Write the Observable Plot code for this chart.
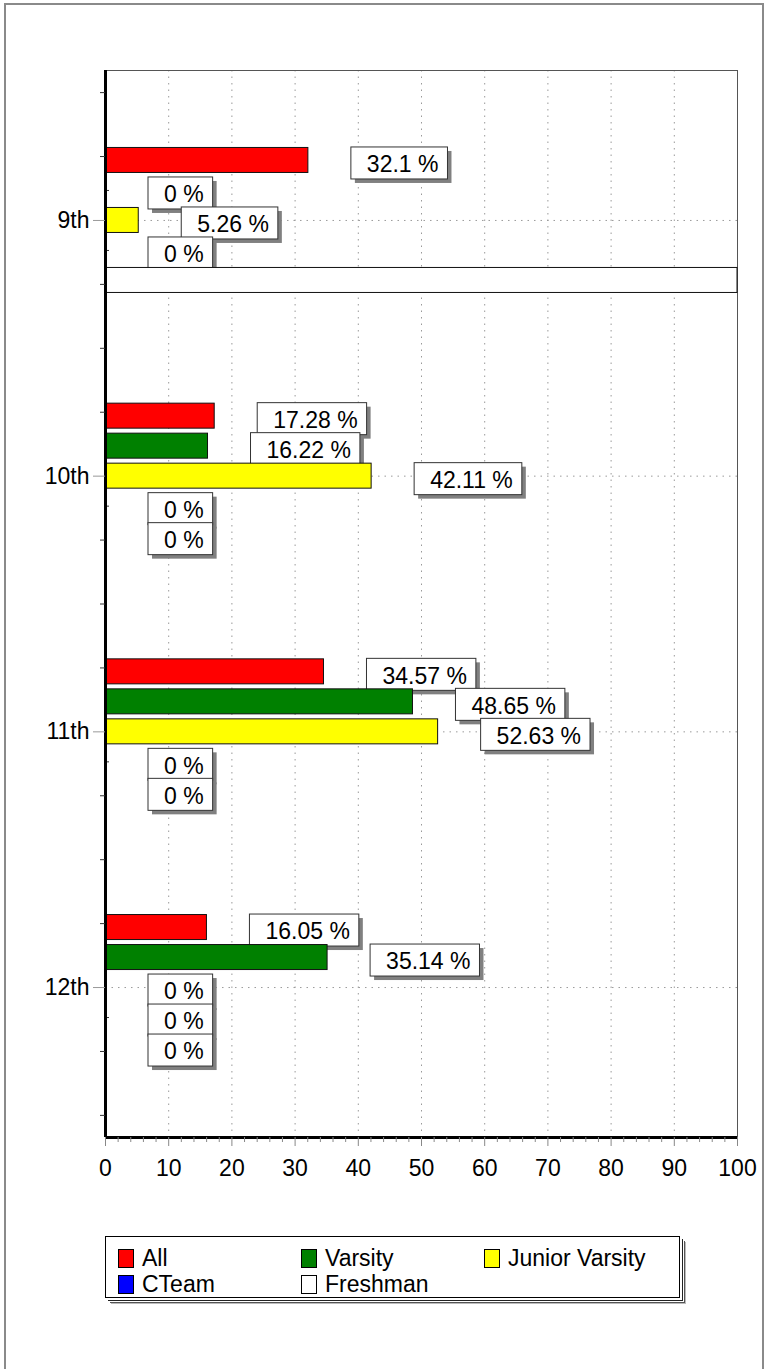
<!DOCTYPE html>
<html><head><meta charset="utf-8">
<script src="https://cdn.jsdelivr.net/npm/d3@7"></script>
<script src="https://cdn.jsdelivr.net/npm/@observablehq/plot@0.6"></script>
<style>
html,body{margin:0;padding:0;background:#fff;}
body{overflow:hidden;font-family:"Liberation Sans",Arial,sans-serif;}
#page{position:relative;width:768px;height:1369px;overflow:hidden;background:#fff;}
#border{position:absolute;left:4px;top:3px;width:760px;height:1420px;border:2px solid #8a8a8a;box-sizing:border-box;}
#chart{position:absolute;left:0;top:0;}
#legend{position:absolute;left:105px;top:1236px;width:575px;height:62px;border:1px solid #000;background:#fff;box-sizing:border-box;
  box-shadow:2px 2px 0 #fff,3px 3px 0 #222,4px 4px 0 #fff,5px 5px 0 #555,6px 6px 0 #bbb;}
.item{position:absolute;height:26px;display:flex;align-items:center;font-size:23px;color:#000;white-space:nowrap;}
.sw{width:14px;height:17px;border:1px solid #000;margin-right:8px;box-sizing:content-box;}
</style></head>
<body><div id="page"><div id="border"></div><div id="chart"></div><div id="legend"></div></div>
<script>
// ---------------- data ----------------
const categories = ["9th", "10th", "11th", "12th"];
const seriesNames = ["All", "Varsity", "Junior Varsity", "CTeam", "Freshman"];
const seriesColors = ["#ff0000", "#008000", "#ffff00", "#0000ff", "#ffffff"];
const allValues = [32.1, 17.28, 34.57, 16.05];
const varsityValues = [0, 16.22, 48.65, 35.14];
const juniorVarsityValues = [5.26, 42.11, 52.63, 0];
const cTeamValues = [0, 0, 0, 0];
const freshmanValues = [100, 0, 0, 0];
const xTickValues = [0, 10, 20, 30, 40, 50, 60, 70, 80, 90, 100];
const legendLabels = ["All", "Varsity", "Junior Varsity", "CTeam", "Freshman"];

const seriesValues = [allValues, varsityValues, juniorVarsityValues, cTeamValues, freshmanValues];

// ---------------- layout ----------------
const W = 768, H = 1200, mL = 105, mR = 31, mT = 70, mB = 63;
const font = '"Liberation Sans", Arial, sans-serif';
const fs = 23;
const plotH = H - mT - mB;
const pxX = (W - mL - mR) / 100;
const yDomain = [0.5 - 0.0865, categories.length + 0.5 + 0.0865];
const pxY = plotH / (yDomain[1] - yDomain[0]);
const uy = (px) => px / pxY;
const ux = (px) => px / pxX;

const ctx = document.createElement("canvas").getContext("2d");
ctx.font = `${fs}px ${font}`;
const fmt = (v) => `${v} %`;

const rows = [];
seriesNames.forEach((s, k) => {
  categories.forEach((c, ci) => {
    const v = seriesValues[k][ci];
    rows.push({k, series: s, cat: c, ci: ci + 1, value: v,
      yc: ci + 1 + uy((k - 2) * 30), label: fmt(v), tw: ctx.measureText(fmt(v)).width});
  });
});

const marks = [];
// grid
marks.push(Plot.ruleX(xTickValues.slice(1, -1), {stroke: "#9a9a9a", strokeDasharray: "1.5,5", strokeWidth: 1}));
marks.push(Plot.ruleY(categories.map((c, i) => i + 1), {stroke: "#9a9a9a", strokeDasharray: "1.5,5", strokeWidth: 1}));
// inside small ticks
marks.push(Plot.ruleY(categories.flatMap((c, i) => [i + 1 - uy(30), i + 1 + uy(30)]), {x1: 0, x2: ux(4), stroke: "#333"}));
marks.push(Plot.frame({stroke: "#555"}));

seriesNames.forEach((s, k) => {
  const data = rows.filter(d => d.k === k);
  const lab = data.filter(d => d.value < 100);
  marks.push(Plot.rect(data, {x1: 0, x2: "value", y1: d => d.yc - uy(12.5), y2: d => d.yc + uy(12.5),
    fill: seriesColors[k], stroke: "#111", strokeWidth: 1}));
  marks.push(Plot.rect(lab, {x1: "value", x2: d => d.value + ux(d.tw + 25), dx: 47, dy: 4,
    y1: d => d.yc - uy(13), y2: d => d.yc + uy(19), fill: "#808080"}));
  marks.push(Plot.rect(lab, {x1: "value", x2: d => d.value + ux(d.tw + 25), dx: 43,
    y1: d => d.yc - uy(13), y2: d => d.yc + uy(19), fill: "#fff", stroke: "#333", strokeWidth: 1}));
  marks.push(Plot.text(lab, {x: "value", y: d => d.yc + uy(4.5), dx: 43 + 15.5, text: "label",
    textAnchor: "start", fontSize: fs, fill: "#000"}));
});

// axis lines
marks.push(Plot.ruleX([0], {stroke: "#000", strokeWidth: 3}));
marks.push(Plot.ruleY([yDomain[1]], {stroke: "#000", strokeWidth: 3}));

const xMinor = d3.range(0, 101, 2).filter(v => v % 10 !== 0);
const yMinor = categories.flatMap((c, i) => [i + 0.5, i + 0.75, i + 1.25]).concat([categories.length + 0.5]);

const hasAxisMarks = typeof Plot.axisX === "function";
if (hasAxisMarks) {
  marks.push(Plot.axisX(xMinor, {tickSize: 5, tickFormat: () => "", stroke: "#888"}));
  marks.push(Plot.axisX(xTickValues, {tickSize: 9, tickPadding: 13, tickFormat: d => String(d), fontSize: fs, stroke: "#888", fill: "#000"}));
  marks.push(Plot.axisY(yMinor, {tickSize: 5, tickFormat: () => "", stroke: "#333"}));
  marks.push(Plot.axisY(categories.map((c, i) => i + 1), {tickSize: 12, tickPadding: 4, tickFormat: i => categories[i - 1], fontSize: fs, stroke: "#999", fill: "#000"}));
}

const chart = Plot.plot({
  width: W, height: H,
  marginLeft: mL, marginRight: mR, marginTop: mT, marginBottom: mB,
  style: {fontFamily: font, fontSize: fs + "px", color: "#000", background: "transparent", overflow: "visible"},
  x: {domain: [0, 100], label: null, ...(hasAxisMarks ? {} : {ticks: xTickValues, tickSize: 9, tickPadding: 13})},
  y: {domain: yDomain, reverse: true, label: null,
      ...(hasAxisMarks ? {} : {ticks: [1, 2, 3, 4], tickFormat: i => categories[i - 1], tickSize: 12})},
  marks
});
document.getElementById("chart").appendChild(chart);

// legend
const legend = document.getElementById("legend");
const legendPos = [[12, 8], [195, 8], [378, 8], [12, 34], [195, 34]];
legendLabels.forEach((name, i) => {
  const it = document.createElement("div");
  it.className = "item";
  it.style.left = legendPos[i][0] + "px";
  it.style.top = legendPos[i][1] + "px";
  const sw = document.createElement("div");
  sw.className = "sw";
  sw.style.background = seriesColors[i];
  const tx = document.createElement("span");
  tx.textContent = name;
  it.appendChild(sw); it.appendChild(tx);
  legend.appendChild(it);
});
</script>
</body></html>
